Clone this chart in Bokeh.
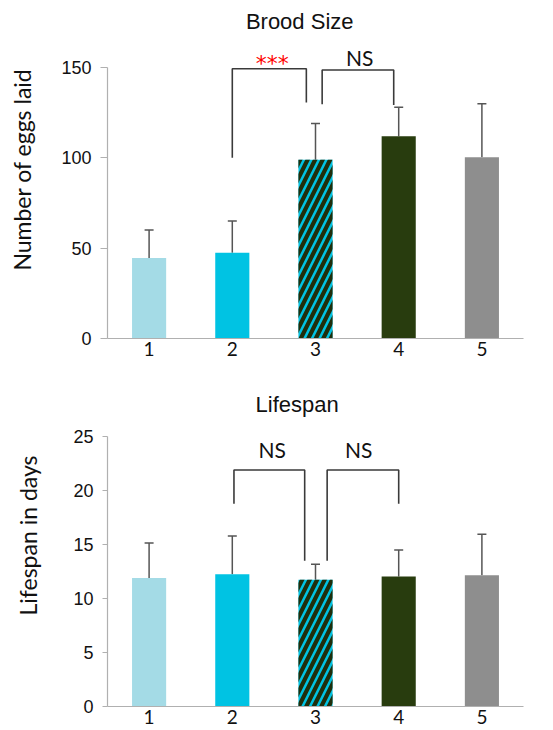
from bokeh.plotting import figure
from bokeh.layouts import column
from bokeh.models import ColumnDataSource, Whisker, TeeHead, FixedTicker
from bokeh.core.properties import value
from bokeh.embed import file_html
from bokeh.resources import INLINE

# ---------------- data ----------------
groups = [1, 2, 3, 4, 5]
group_labels = ["1", "2", "3", "4", "5"]
bar_colors = ["#a4dbe6", "#00c3e3", "#00c3e3", "#283c0e", "#8e8e8e"]
bar_hatch = [" ", " ", "right_diagonal_line", " ", " "]

brood_mean = [44.5, 47.4, 99.0, 112.0, 100.4]
brood_sd = [15.5, 17.6, 20.0, 16.0, 29.6]
brood_ticks = [0, 50, 100, 150]

life_mean = [11.9, 12.25, 11.73, 12.04, 12.16]
life_sd = [3.25, 3.55, 1.45, 2.45, 3.8]
life_ticks = [0, 5, 10, 15, 20, 25]

# significance brackets: [x_left, x_right, y_left_end, y_top, y_right_end]
brood_brackets = [[2.0, 2.89, 100.0, 149.3, 130.6],
                  [3.08, 3.94, 129.7, 148.6, 129.3]]
brood_sig_text = ["***", "NS"]
brood_sig_x = [2.48, 3.53]
brood_sig_y = [152.5, 155.5]
brood_sig_color = ["#ff0000", "#111111"]
brood_sig_font = ["DejaVu Sans", "Lato"]
brood_sig_size = ["22px", "21px"]

life_brackets = [[2.02, 2.87, 18.77, 21.9, 13.5],
                 [3.14, 4.0, 13.5, 21.9, 18.77]]
life_sig_text = ["NS", "NS"]
life_sig_x = [2.48, 3.52]
life_sig_y = [23.8, 23.8]
life_sig_color = ["#111111", "#111111"]
life_sig_font = ["Lato", "Lato"]
life_sig_size = ["21px", "21px"]

AX_COLOR = "#b0b0b0"
TXT = "#111111"


def make_panel(title, title_x, title_y, ylabel, mean, sd, ticks, brackets,
               sig_text, sig_x, sig_y, sig_color, sig_font, sig_size,
               height, y_end, left, bottom, tick_out, label_standoff):
    p = figure(width=553, height=height, x_range=(0.5, 5.5), y_range=(0, y_end),
               output_backend="svg", toolbar_location=None,
               min_border_left=left, min_border_right=30,
               min_border_top=0, min_border_bottom=bottom)
    p.outline_line_color = None
    p.xgrid.visible = False
    p.ygrid.visible = False
    p.background_fill_color = "white"

    src = ColumnDataSource(dict(x=groups, top=mean, color=bar_colors,
                                hatch=bar_hatch,
                                upper=[m + s for m, s in zip(mean, sd)]))
    p.vbar(x="x", top="top", width=0.41, source=src, fill_color="color",
           line_color=None, hatch_pattern="hatch", hatch_color="#1f2e0c",
           hatch_scale=15, hatch_weight=4.2)

    w = Whisker(source=src, base="x", upper="upper", lower="top",
                line_color="#555555", line_width=1.5,
                upper_head=TeeHead(size=9, line_color="#555555", line_width=1.5),
                lower_head=None)
    p.add_layout(w)

    xs = [[b[0], b[0], b[1], b[1]] for b in brackets]
    ys = [[b[2], b[3], b[3], b[4]] for b in brackets]
    p.multi_line(xs=xs, ys=ys, line_color="#3a3a3a", line_width=1.6)

    sig = ColumnDataSource(dict(x=sig_x, y=sig_y, t=sig_text, c=sig_color,
                                f=sig_font, s=sig_size))
    p.text(x="x", y="y", text="t", text_color="c", text_font="f",
           text_font_size="s", text_align="center", text_baseline="middle",
           source=sig)

    p.text(x=[title_x], y=[title_y], text=[title], text_color=TXT,
           text_font=value("Liberation Sans"), text_font_size="22px",
           text_align="center", text_baseline="middle")

    # axes
    xa = p.xaxis[0]
    xa.ticker = FixedTicker(ticks=groups)
    xa.major_label_overrides = {g: l for g, l in zip(groups, group_labels)}
    xa.major_tick_out = 0
    xa.major_tick_in = 0
    xa.minor_tick_out = 0
    xa.axis_line_color = AX_COLOR
    xa.axis_line_width = 1.2
    xa.major_label_text_font = "Lato"
    xa.major_label_text_font_size = "19px"
    xa.major_label_text_color = TXT
    xa.major_label_standoff = 3

    ya = p.yaxis[0]
    ya.ticker = FixedTicker(ticks=ticks)
    ya.bounds = (ticks[0], ticks[-1])
    ya.major_tick_out = tick_out
    ya.major_tick_in = 0
    ya.minor_tick_out = 0
    ya.major_tick_line_color = AX_COLOR
    ya.axis_line_color = AX_COLOR
    ya.axis_line_width = 1.2
    ya.major_label_text_font = "Liberation Sans"
    ya.major_label_text_font_size = "18px"
    ya.major_label_text_color = TXT
    ya.major_label_standoff = 9
    ya.axis_label = ylabel
    ya.axis_label_text_font = "Lato"
    ya.axis_label_text_font_style = "normal"
    ya.axis_label_text_font_size = "23px"
    ya.axis_label_text_color = TXT
    ya.axis_label_standoff = label_standoff
    return p


p1 = make_panel("Brood Size", 2.81, 175.4, "Number of eggs laid",
                brood_mean, brood_sd, brood_ticks, brood_brackets,
                brood_sig_text, brood_sig_x, brood_sig_y, brood_sig_color,
                brood_sig_font, brood_sig_size,
                height=364, y_end=187.1, left=107, bottom=26, tick_out=7,
                label_standoff=22)

p2 = make_panel("Lifespan", 2.78, 28.0, "Lifespan in days",
                life_mean, life_sd, life_ticks, life_brackets,
                life_sig_text, life_sig_x, life_sig_y, life_sig_color,
                life_sig_font, life_sig_size,
                height=366, y_end=31.67, left=104, bottom=24, tick_out=5,
                label_standoff=28)

layout = column(p1, p2, spacing=0)

with open("out.html", "w") as f:
    f.write(file_html(layout, INLINE))
